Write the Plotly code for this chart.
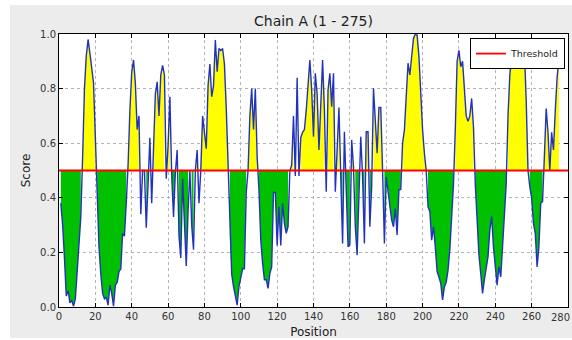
import plotly.graph_objects as go

title_text = "Chain A (1 - 275)"
x_label = "Position"
y_label = "Score"
threshold = 0.5
x_ticks = list(range(0, 281, 20))
y_ticks = [0.0, 0.2, 0.4, 0.6, 0.8, 1.0]

positions = list(range(1, 276))
scores = [
    0.38, 0.30, 0.18, 0.04, 0.06, 0.015, 0.025, 0.003, 0.03, 0.12,
    0.22, 0.33, 0.55, 0.80, 0.92, 0.98, 0.93, 0.88, 0.82, 0.62,
    0.42, 0.22, 0.12, 0.05, 0.03, 0.035, 0.007, 0.08, 0.05, 0.003,
    0.08, 0.09, 0.13, 0.14, 0.27, 0.26, 0.38, 0.52, 0.72, 0.86,
    0.905, 0.82, 0.65, 0.70, 0.34, 0.50, 0.50, 0.29, 0.45, 0.62,
    0.38, 0.55, 0.78, 0.825, 0.70, 0.85, 0.885, 0.85, 0.47, 0.59,
    0.77, 0.48, 0.33, 0.49, 0.575, 0.26, 0.18, 0.47, 0.30, 0.15,
    0.35, 0.50, 0.30, 0.21, 0.50, 0.575, 0.38, 0.50, 0.70, 0.65,
    0.58, 0.81, 0.89, 0.77, 0.81, 0.978, 0.862, 0.947, 0.94, 0.947,
    0.89, 0.73, 0.52, 0.25, 0.12, 0.075, 0.038, 0.007, 0.075, 0.11,
    0.14, 0.14, 0.42, 0.50, 0.70, 0.80, 0.65, 0.80, 0.55, 0.43,
    0.245, 0.16, 0.10, 0.10, 0.068, 0.123, 0.147, 0.42, 0.42, 0.225,
    0.367, 0.225, 0.38, 0.306, 0.27, 0.294, 0.50, 0.52, 0.70, 0.48,
    0.84, 0.48, 0.62, 0.64, 0.65, 0.72, 0.81, 0.905, 0.795, 0.624,
    0.856, 0.78, 0.575, 0.722, 0.905, 0.722, 0.422, 0.795, 0.856, 0.734,
    0.856, 0.422, 0.612, 0.731, 0.477, 0.233, 0.642, 0.44, 0.221, 0.227,
    0.612, 0.514, 0.294, 0.19, 0.45, 0.624, 0.477, 0.233, 0.642, 0.642,
    0.294, 0.44, 0.801, 0.66, 0.563, 0.731, 0.731, 0.50, 0.233, 0.477,
    0.43, 0.367, 0.318, 0.294, 0.361, 0.264, 0.43, 0.43, 0.60, 0.648,
    0.758, 0.893, 0.85, 0.929, 0.984, 1.0, 0.996, 0.917, 0.77, 0.65,
    0.563, 0.50, 0.367, 0.35, 0.245, 0.294, 0.22, 0.13, 0.11, 0.087,
    0.026, 0.074, 0.09, 0.135, 0.21, 0.33, 0.45, 0.65, 0.90, 0.94,
    0.88, 0.90, 0.80, 0.70, 0.68, 0.70, 0.764, 0.66, 0.45, 0.30,
    0.19, 0.123, 0.05, 0.10, 0.142, 0.184, 0.282, 0.331, 0.22, 0.16,
    0.08, 0.147, 0.11, 0.221, 0.318, 0.45, 0.70, 0.85, 0.917, 0.978,
    0.953, 0.929, 0.923, 0.917, 0.929, 0.94, 0.758, 0.50, 0.44, 0.40,
    0.306, 0.27, 0.147, 0.221, 0.38, 0.386, 0.55, 0.727, 0.64, 0.50,
    0.64, 0.575, 0.72, 0.84, 0.905,
]


def run_polygons(xs, ys, mask, base):
    """Build fill_between-like polygons for contiguous runs where mask is True."""
    px, py = [], []
    i, n = 0, len(xs)
    while i < n:
        if mask[i]:
            j = i
            while j + 1 < n and mask[j + 1]:
                j += 1
            rx = xs[i:j + 1]
            ry = ys[i:j + 1]
            px += rx + rx[::-1] + [None]
            py += ry + [base] * len(rx) + [None]
            i = j + 1
        else:
            i += 1
    return px, py


above = [s >= threshold for s in scores]
below = [s < threshold for s in scores]
yx, yy = run_polygons(positions, scores, above, threshold)
gx, gy = run_polygons(positions, scores, below, threshold)

fig = go.Figure()
fig.add_trace(go.Scatter(x=yx, y=yy, mode="lines", fill="toself",
                         fillcolor="#ffff00", line=dict(width=0),
                         showlegend=False, hoverinfo="skip"))
fig.add_trace(go.Scatter(x=gx, y=gy, mode="lines", fill="toself",
                         fillcolor="#00c000", line=dict(width=0),
                         showlegend=False, hoverinfo="skip"))
fig.add_trace(go.Scatter(x=positions, y=scores, mode="lines",
                         line=dict(color="#2233bb", width=1.4),
                         showlegend=False))
fig.add_trace(go.Scatter(x=[0, 280], y=[threshold, threshold], mode="lines",
                         line=dict(color="#ff0000", width=1.8),
                         name="Threshold"))

axis_common = dict(
    showline=True, linecolor="black", linewidth=1, mirror="allticks",
    ticks="inside", ticklen=4, tickcolor="black", tickwidth=1,
    showgrid=True, gridcolor="#b4b4b4", griddash="dot", gridwidth=1,
    zeroline=False, tickfont=dict(size=10, color="#333333"),
)

fig.update_layout(
    width=572, height=340,
    margin=dict(l=59, r=4, t=34, b=33),
    paper_bgcolor="#ececec", plot_bgcolor="white",
    font=dict(family="DejaVu Sans", color="#222222"),
    title=dict(text=title_text, x=0.5, xref="paper", y=1 - 21 / 340,
               yanchor="middle", font=dict(size=14, color="#222222")),
    xaxis=dict(range=[0, 280], tickvals=x_ticks,
               title=dict(text=x_label, font=dict(size=12), standoff=6),
               **axis_common),
    yaxis=dict(range=[0, 1], tickvals=y_ticks, tickformat=".1f",
               title=dict(text=y_label, font=dict(size=12), standoff=6),
               **axis_common),
    legend=dict(x=0.994, xanchor="right", y=0.985, yanchor="top",
                bgcolor="white", bordercolor="black", borderwidth=1,
                font=dict(size=9.5), itemwidth=30,
                tracegroupgap=0),
    annotations=[
        dict(text=str(x_ticks[-1]), x=x_ticks[-1], xref="x",
             y=0, yref="paper", xanchor="right", yanchor="top",
             xshift=4, yshift=-3, showarrow=False,
             font=dict(size=10, color="#333333")),
    ],
    shapes=[
        dict(type="rect", xref="paper", yref="paper", layer="above",
             x0=-0.1159, x1=-0.0963, y0=-0.1209, y1=1.1245,
             fillcolor="white", line=dict(width=0)),
        dict(type="rect", xref="paper", yref="paper", layer="above",
             x0=-0.1159, x1=1.0079, y0=1.1062, y1=1.1245,
             fillcolor="white", line=dict(width=0)),
        dict(type="rect", xref="paper", yref="paper", layer="above",
             x0=-0.1159, x1=1.0079, y0=-0.1209, y1=-0.1136,
             fillcolor="white", line=dict(width=0)),
    ],
)

fig.write_html("out.html")
